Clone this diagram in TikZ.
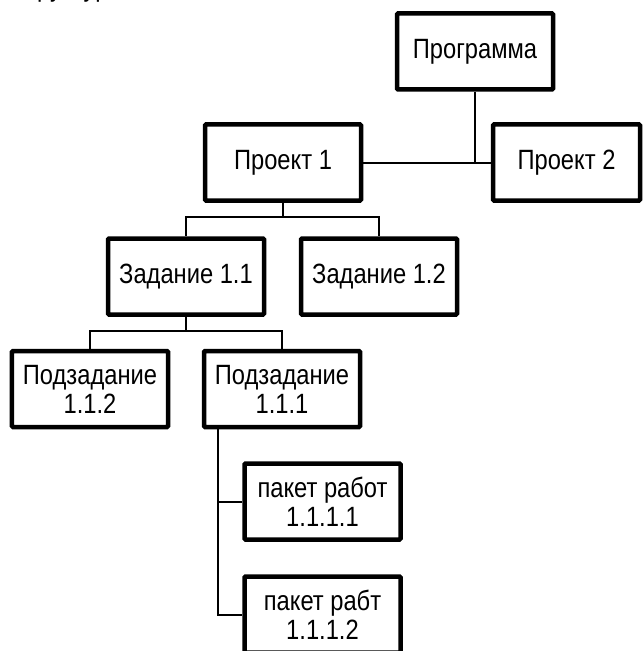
\documentclass[tikz,border=0pt]{standalone}
\usepackage{fontspec}
\setmainfont[FakeStretch=0.85]{Liberation Sans}
\usetikzlibrary{positioning,calc}
\tikzstyle{every text node part}=[font=\fontsize{28}{29}\selectfont]
\tikzstyle{wbs}=[draw,line width=4.5bp,rounded corners=1bp,minimum width=156bp,
    minimum height=76bp,align=center,inner sep=0pt]
\tikzstyle{link}=[line width=2bp]

\begin{document}
\begin{tikzpicture}[x=1bp,y=-1bp]
      \useasboundingbox (0,0) rectangle (644,651);

      % title, cut by the page edge
      \node [anchor=base west,inner sep=0pt] (title) at (9,-3) {Структура};

      \node [wbs] (prog) at (475,51.5) {Программа};
      \node [wbs] (proj1) at (283,162.5) {Проект 1};
      \node [wbs,minimum width=147bp] (proj2) at (566.5,162.5) {Проект 2};

      \node [wbs] (task11) at (186,276.5) {Задание 1.1};
      \node [wbs] (task12) at (379,276.5) {Задание 1.2};

      \node [wbs] (sub112) at (90,389) {Подзадание\\1.1.2};
      \node [wbs] (sub111) at (282,389) {Подзадание\\1.1.1};

      \node [wbs] (wp1) at (322.5,501.5) {пакет работ\\1.1.1.1};
      \node [wbs] (wp2) at (322.5,614.5) {пакет рабт\\1.1.1.2};

      \draw [link] (proj1.east) -- (proj2.west);
      \draw [link] (prog.south) -- (prog.south |- proj2.west);

      \draw [link] (proj1.south) -- ++(0,14) -| (task11.north);
      \draw [link] (proj1.south) -- ++(0,14) -| (task12.north);

      \draw [link] (task11.south) -- ++(0,14) -| (sub112.north);
      \draw [link] (task11.south) -- ++(0,14) -| (sub111.north);

      \coordinate (trunk) at ($(sub111.south west)+(16,0)$);
      \draw [link] (trunk) |- (wp1.west);
      \draw [link] (trunk) |- (wp2.west);

    \end{tikzpicture}
\end{document}
